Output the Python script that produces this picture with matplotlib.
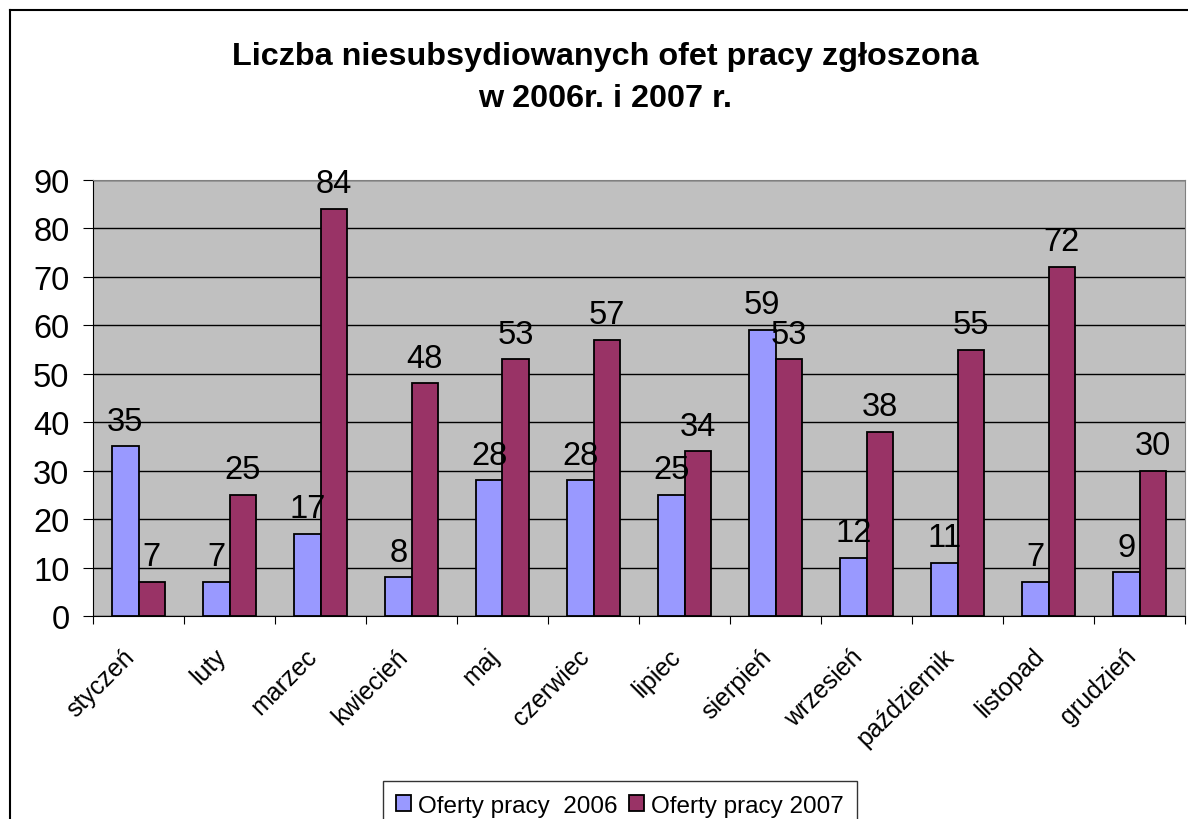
import matplotlib
matplotlib.use("Agg")
import matplotlib.pyplot as plt
import matplotlib.transforms as mtransforms
from matplotlib.lines import Line2D
import numpy as np

plt.rcParams['font.family'] = ['Liberation Sans', 'DejaVu Sans']

months = ["styczeń", "luty", "marzec", "kwiecień", "maj", "czerwiec",
          "lipiec", "sierpień", "wrzesień", "październik", "listopad", "grudzień"]
oferty_2006 = [35, 7, 17, 8, 28, 28, 25, 59, 12, 11, 7, 9]
oferty_2007 = [7, 25, 84, 48, 53, 57, 34, 53, 38, 55, 72, 30]
labels = ["Oferty pracy  2006", "Oferty pracy 2007"]
colors = ["#9999FF", "#993366"]
title_lines = ["Liczba niesubsydiowanych ofet pracy zgłoszona", "w 2006r. i 2007 r."]

fig = plt.figure(figsize=(11.88, 8.2), dpi=100)
ax = fig.add_axes([93/1188, 1 - 617/820, (1185 - 93)/1188, (617 - 181)/820])
ax.set_facecolor("#C0C0C0")

x = np.arange(len(months))
w = 0.29
for i, (vals, lab, col) in enumerate(zip([oferty_2006, oferty_2007], labels, colors)):
    pos = x + (i - 0.5) * w
    ax.bar(pos, vals, w, color=col, edgecolor="black", linewidth=1.3, label=lab, zorder=3)
    for p, v in zip(pos, vals):
        ax.annotate(str(v), (p, v), xytext=(0, 7), textcoords="offset points",
                    ha="center", va="bottom", fontsize=23.5, zorder=4)

ax.set_xlim(-0.5, len(months) - 0.5)
ax.set_ylim(0, 90)
ax.set_yticks(range(0, 91, 10))
ax.yaxis.grid(True, color="black", linewidth=1)
ax.set_axisbelow(True)
ax.tick_params(axis="y", labelsize=23.5, length=7, direction="out", pad=10)

# category boundaries as x ticks, labels on minor ticks at centres
ax.set_xticks(np.arange(-0.5, len(months), 1.0))
ax.set_xticklabels([])
ax.tick_params(axis="x", which="major", length=6, direction="out")
ax.set_xticks(x, minor=True)
ax.set_xticklabels(months, minor=True, rotation=45, ha="right",
                   rotation_mode="anchor", fontsize=18)
ax.tick_params(axis="x", which="minor", length=0, pad=20)
shift = mtransforms.ScaledTranslation(-16/100, 0, fig.dpi_scale_trans)
for t in ax.get_xticklabels(minor=True):
    t.set_transform(t.get_transform() + shift)

for s in ["top", "right"]:
    ax.spines[s].set_color("#808080")
for s in ["left", "bottom"]:
    ax.spines[s].set_color("black")

fig.text(605/1188, 1 - 57/820, title_lines[0], ha="center", va="center",
         fontsize=23.3, fontweight="bold")
fig.text(605/1188, 1 - 99/820, title_lines[1], ha="center", va="center",
         fontsize=23.3, fontweight="bold")

leg = fig.legend(loc="upper center", bbox_to_anchor=(620/1188, 1 - 770/820), ncol=2,
                 fontsize=17.5, frameon=True, fancybox=False, edgecolor="black",
                 handlelength=0.6, handleheight=0.6, handletextpad=0.3,
                 columnspacing=0.5, borderpad=0.55)
leg.get_frame().set_linewidth(1)

# outer chart frame (cut off on right and bottom)
fig.add_artist(Line2D([10/1188, 10/1188], [0, 1 - 11/820], color="black", lw=1.5))
fig.add_artist(Line2D([10/1188, 1], [1 - 11/820, 1 - 11/820], color="black", lw=1.5))

fig.savefig("out.png", dpi=100)
